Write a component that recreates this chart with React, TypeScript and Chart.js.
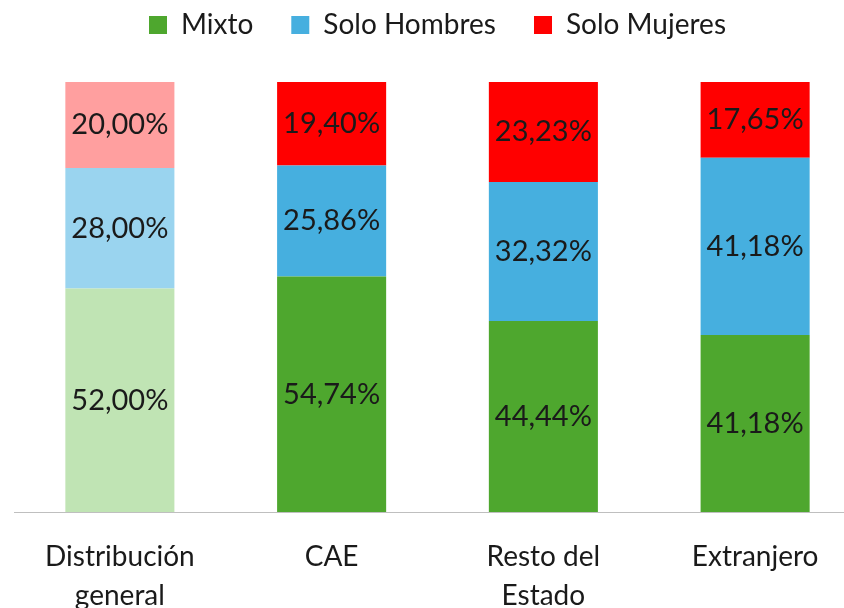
import React, { useEffect, useRef } from "react";
import { Chart, registerables } from "chart.js";

Chart.register(...registerables);

const categories: (string | string[])[] = [
  ["Distribución", "general"],
  "CAE",
  ["Resto del", "Estado"],
  "Extranjero",
];
const mixto = [52.0, 54.74, 44.44, 41.18];
const soloHombres = [28.0, 25.86, 32.32, 41.18];
const soloMujeres = [20.0, 19.4, 23.23, 17.65];
const seriesNames = ["Mixto", "Solo Hombres", "Solo Mujeres"];
const darkColors = ["#4EA72E", "#46AFDF", "#FF0000"];
const lightColors = ["#C0E4B4", "#9AD4EF", "#FF9F9F"];

const FONT = "Lato, 'Open Sans', sans-serif";
const TEXT = "#1a1a1a";

const fmt = (v: number) => v.toFixed(2).replace(".", ",") + "%";

const pick = (light: string, dark: string) => (ctx: any) =>
  ctx.type === "data" && ctx.dataIndex === 0 ? light : dark;

const segmentLabels = {
  id: "segmentLabels",
  afterDatasetsDraw(chart: any) {
    const { ctx } = chart;
    ctx.save();
    ctx.font = `29px ${FONT}`;
    ctx.fillStyle = TEXT;
    ctx.textAlign = "center";
    ctx.textBaseline = "middle";
    chart.data.datasets.forEach((ds: any, di: number) => {
      const meta = chart.getDatasetMeta(di);
      meta.data.forEach((el: any, i: number) => {
        const { x, y, base } = el.getProps(["x", "y", "base"], true);
        ctx.fillText(fmt(ds.data[i]), x, (y + base) / 2);
      });
    });
    ctx.restore();
  },
};

const legendGap = {
  id: "legendGap",
  beforeLayout(chart: any) {
    const lg = chart.legend;
    if (lg && !lg.__patched) {
      const fit = lg.fit.bind(lg);
      lg.fit = function () {
        fit();
        this.height = 109;
      };
      lg.__patched = true;
    }
  },
};

export default function App() {
  const ref = useRef<HTMLCanvasElement | null>(null);

  useEffect(() => {
    if (!ref.current) return;
    Chart.defaults.font.family = FONT;
    const chart = new Chart(ref.current, {
      type: "bar",
      data: {
        labels: categories,
        datasets: [
          {
            label: seriesNames[0],
            data: mixto,
            backgroundColor: pick(lightColors[0], darkColors[0]),
          },
          {
            label: seriesNames[1],
            data: soloHombres,
            backgroundColor: pick(lightColors[1], darkColors[1]),
          },
          {
            label: seriesNames[2],
            data: soloMujeres,
            backgroundColor: pick(lightColors[2], darkColors[2]),
          },
        ],
      },
      options: {
        responsive: false,
        animation: false,
        layout: { padding: { top: -27, left: 14, right: 1, bottom: 0 } },
        datasets: {
          bar: { categoryPercentage: 1, barPercentage: 0.515, borderWidth: 0 },
        },
        plugins: {
          legend: {
            position: "top",
            labels: {
              boxWidth: 18,
              boxHeight: 18,
              padding: 38,
              color: TEXT,
              font: { size: 28, family: FONT },
              generateLabels: (c: any) =>
                Chart.defaults.plugins.legend.labels
                  .generateLabels(c)
                  .map((item: any, i: number) => ({
                    ...item,
                    fillStyle: darkColors[i],
                    strokeStyle: darkColors[i],
                    lineWidth: 0,
                  })),
            },
          },
          tooltip: { enabled: false },
        },
        scales: {
          x: {
            stacked: true,
            grid: { display: false, drawTicks: false },
            border: { display: true, color: "#BFBFBF", width: 1 },
            ticks: {
              color: TEXT,
              padding: 25,
              maxRotation: 0,
              autoSkip: false,
              font: { size: 28, family: FONT, lineHeight: 1.4 },
            },
            afterFit: (s: any) => {
              s.height = 96;
            },
          },
          y: {
            stacked: true,
            display: false,
            min: 0,
            max: 100,
          },
        },
      },
      plugins: [segmentLabels, legendGap],
    });
    return () => chart.destroy();
  }, []);

  return (
    <div
      style={{
        position: "fixed",
        left: 0,
        top: 0,
        width: 844,
        height: 608,
        overflow: "hidden",
        background: "#fff",
      }}
    >
      <canvas ref={ref} width={862} height={608} style={{ display: "block" }} />
    </div>
  );
}
